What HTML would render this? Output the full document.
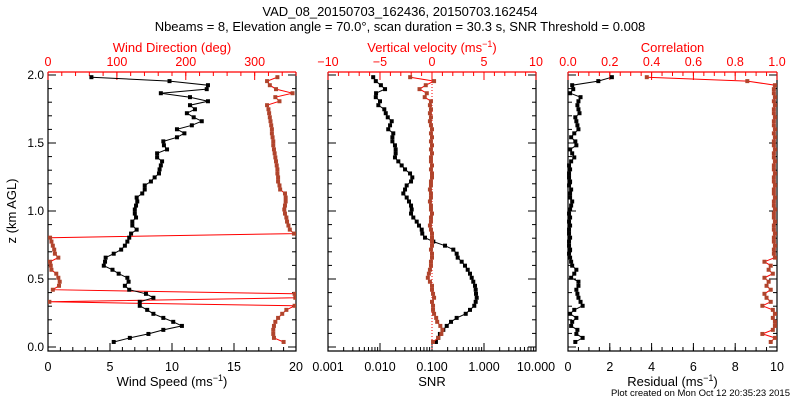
<!DOCTYPE html>
<html><head><meta charset="utf-8"><style>
body{margin:0;background:#fff}
svg{display:block}
text{font-family:"Liberation Sans",sans-serif}
</style></head><body>
<svg id="c" width="800" height="400" viewBox="0 0 800 400" xmlns="http://www.w3.org/2000/svg">
<rect width="800" height="400" fill="#fff"/>
<text x="400" y="16" text-anchor="middle" font-size="13">VAD_08_20150703_162436, 20150703.162454</text>
<text x="400" y="31" text-anchor="middle" font-size="13">Nbeams = 8, Elevation angle = 70.0°, scan duration = 30.3 s, SNR Threshold = 0.008</text>
<text transform="translate(16,211) rotate(-90)" text-anchor="middle" font-size="13">z (km AGL)</text>
<text x="790" y="396" text-anchor="end" font-size="9.5">Plot created on Mon Oct 12 20:35:23 2015</text>
<g id="plots"></g>
</svg>
<script>
// heights (km AGL), bottom to top
const heights = [0.037,0.067,0.096,0.126,0.155,0.185,0.214,0.244,0.273,0.303,0.332,0.362,0.391,0.421,0.45,0.48,0.509,0.539,0.568,0.598,0.627,0.657,0.686,0.716,0.745,0.775,0.804,0.834,0.863,0.893,0.922,0.952,0.981,1.011,1.04,1.07,1.099,1.129,1.158,1.188,1.217,1.247,1.276,1.306,1.335,1.365,1.394,1.424,1.453,1.483,1.512,1.542,1.571,1.601,1.63,1.66,1.689,1.719,1.748,1.778,1.807,1.837,1.866,1.896,1.925,1.955,1.984];
const windSpeed = [5.3,6.6,8.1,9.3,10.8,10.1,9.3,8.5,8.0,7.4,7.4,8.5,7.9,6.55,6.2,6.5,6.4,5.7,5.2,4.5,4.6,4.65,5.3,5.9,6.2,6.4,6.55,6.7,7.15,6.8,6.8,7.1,7.0,7.0,7.1,7.2,7.15,7.6,7.8,7.8,8.3,8.6,8.95,9.0,9.1,9.2,8.8,8.8,9.6,9.35,9.3,10.4,11.0,10.4,11.6,12.4,11.75,11.2,11.85,11.45,12.9,11.45,9.1,12.8,12.9,9.8,3.5];
const windDir = [342,328,327,327,328,330,334,340,346,358,2,359,358,7,16,17,15,12,5,4,3,15,10,9,7,5,3,357,351,349,347,346,344,343,344,345,345,344,337,336,334,334,333,333,332,331,330,329,328,327,327,326,325,325,324,323,322,321,320,318,336,330,355,331,322,318,333];
const snrTopDown = [0.0074,0.0083,0.0104,0.0125,0.0084,0.0083,0.010,0.0093,0.0121,0.0129,0.0141,0.0168,0.0156,0.0144,0.018,0.0173,0.0173,0.0194,0.020,0.020,0.0194,0.0225,0.0261,0.0303,0.0378,0.0418,0.0395,0.0326,0.0303,0.0281,0.0326,0.0361,0.0395,0.0407,0.0395,0.0437,0.0508,0.0562,0.0634,0.065,0.0733,0.106,0.178,0.257,0.298,0.312,0.372,0.431,0.486,0.538,0.58,0.622,0.671,0.692,0.702,0.724,0.692,0.65,0.538,0.445,0.298,0.232,0.192,0.165,0.142,0.132,0.119];
const vvelTopDown = [-2.1,0.2,-0.6,-1.2,-0.5,-0.7,-0.1,-0.2,-0.1,-0.2,-0.1,-0.2,-0.1,0.0,-0.1,0.0,-0.1,0.0,-0.1,0.0,-0.1,-0.1,0.0,-0.1,0.0,0.0,-0.1,-0.1,-0.2,-0.1,-0.1,-0.2,-0.1,-0.1,0.0,-0.1,-0.1,-0.2,-0.1,0.0,0.0,0.0,0.0,-0.1,0.0,0.0,-0.1,-0.1,-0.2,-0.3,-0.4,-0.2,0.0,0.0,0.1,0.2,0.0,0.1,0.1,0.2,0.4,0.5,0.8,1.0,0.9,0.6,0.1];
const residTopDown = [2.1,1.45,0.2,0.25,0.1,0.6,0.5,0.45,0.5,0.55,0.35,0.4,0.45,0.5,0.3,0.15,0.35,0.4,0.1,0.2,0.3,0.15,0.05,0.1,0.05,0.05,0.1,0.05,0.15,0.1,0.1,0.2,0.15,0.1,0.05,0.1,0.05,0.1,0.05,0.05,0.1,0.05,0.05,0.1,0.05,0.1,0.15,0.2,0.4,0.3,0.15,0.5,0.5,0.4,0.45,0.5,0.6,0.7,0.3,0.1,0.4,0.2,0.15,0.45,0.4,0.7,0.35];
const corrTopDown = [0.377,0.858,0.99,0.985,0.985,0.99,0.985,0.99,0.985,0.985,0.99,0.985,0.985,0.99,0.985,0.99,0.985,0.985,0.99,0.985,0.985,0.99,0.985,0.985,0.99,0.985,0.985,0.99,0.985,0.985,0.99,0.985,0.985,0.99,0.985,0.985,0.99,0.985,0.985,0.99,0.985,0.985,0.99,0.985,0.985,0.99,0.94,0.97,0.96,0.98,0.94,0.96,0.95,0.97,0.94,0.95,0.97,0.93,0.98,0.99,0.98,0.99,0.99,0.98,0.93,0.99,0.97];
const snr = snrTopDown.slice().reverse();
const vvel = vvelTopDown.slice().reverse();
const resid = residTopDown.slice().reverse();
const corr = corrTopDown.slice().reverse();
const speedTicks = ['0','5','10','15','20'];
const dirTicks = ['0','100','200','300'];
const snrTicks = ['0.001','0.010','0.100','1.000','10.000'];
const vvTicks = ['\u221210','\u22125','0','5','10'];
const residTicks = ['0','2','4','6','8','10'];
const corrTicks = ['0.0','0.2','0.4','0.6','0.8','1.0'];
const zTicks = ['0.0','0.5','1.0','1.5','2.0'];

const NS='http://www.w3.org/2000/svg';
const root=document.getElementById('plots');
const BROWN='#b0442c', RED='#ff0000';
const Y0=347, Y1=75, TOP=72, BOT=351;
function yz(z){return Y0+(Y1-Y0)*z/2;}
function el(tag,attrs,parent){const e=document.createElementNS(NS,tag);for(const k in attrs)e.setAttribute(k,attrs[k]);(parent||root).appendChild(e);return e;}
function lin(a,b,L,R){return v=>L+(v-a)/(b-a)*(R-L);}
function logs(a,b,L,R){return v=>L+(Math.log10(v)-Math.log10(a))/(Math.log10(b)-Math.log10(a))*(R-L);}

function panel(name,L,R,showY){
  const g=el('g',{});
  
  
  const fr=el('path',{d:`M${L},${TOP}V${BOT}H${R}V${TOP}`,fill:'none',stroke:'#000','stroke-width':1.2},g);
  
  
  const tp=el('line',{x1:L,y1:TOP,x2:R,y2:TOP,stroke:RED,'stroke-width':1.2},g);
  
  
  for(let i=0;i<=20;i++){
    const z=i*0.1,y=yz(z),len=(i%5===0)?8:4;
    el('line',{x1:L,y1:y,x2:L+len,y2:y,stroke:'#000'},g);
    el('line',{x1:R,y1:y,x2:R-len,y2:y,stroke:'#000'},g);
  }
  if(showY){
    zTicks.forEach(t=>{const tx=el('text',{x:L-4,y:yz(+t)+4,'text-anchor':'end','font-size':12},g);tx.textContent=t;
      
      });
  }
  return g;
}
function bottomAxis(g,sx,vals,labels,minor,L,R,title,isLog){
  vals.forEach((v,i)=>{
    const x=sx(v);
    el('line',{x1:x,y1:BOT,x2:x,y2:BOT-8,stroke:'#000'},g);
    const t=el('text',{x:x,y:371,'text-anchor':'middle','font-size':12.5},g);t.textContent=labels[i];
    
    
  });
  minor.forEach(v=>{const x=sx(v);el('line',{x1:x,y1:BOT,x2:x,y2:BOT-4,stroke:'#000'},g);});
  const t=el('text',{x:(L+R)/2,y:386,'text-anchor':'middle','font-size':13},g);
  t.innerHTML=title;
  
  
}
function topAxis(g,sx,vals,labels,minor,L,R,title){
  vals.forEach((v,i)=>{
    const x=sx(v);
    el('line',{x1:x,y1:TOP,x2:x,y2:TOP+8,stroke:RED},g);
    const t=el('text',{x:x,y:66,'text-anchor':'middle','font-size':12.5,fill:RED},g);t.textContent=labels[i];
    
    
  });
  minor.forEach(v=>{const x=sx(v);el('line',{x1:x,y1:TOP,x2:x,y2:TOP+4,stroke:RED},g);});
  const t=el('text',{x:(L+R)/2,y:52,'text-anchor':'middle','font-size':13,fill:RED},g);
  t.innerHTML=title;
  
  
}
function series(g,name,xs,sx,lineColor,markColor){
  const pts=xs.map((v,i)=>[sx(v),yz(heights[i])]);
  const pl=el('polyline',{points:pts.map(p=>p[0].toFixed(1)+','+p[1].toFixed(1)).join(' '),fill:'none',stroke:lineColor,'stroke-width':1},g);
  
  
  pts.forEach(p=>{
    const r=el('rect',{x:p[0]-2,y:p[1]-2,width:4,height:4,fill:markColor},g);
    
    
  });
}
function range(a,b,s){const r=[];for(let v=a;v<=b+1e-9;v+=s)r.push(+v.toFixed(6));return r;}

// Panel 1
{
  const L=48,R=296,g=panel('wind-panel',L,R,true);
  const sx=lin(0,20,L,R), dx=lin(0,360,L,R);
  bottomAxis(g,sx,speedTicks.map(Number),speedTicks,range(0,20,1),L,R,'Wind Speed (ms<tspan dy="-5" font-size="9">\u22121</tspan><tspan dy="5">)</tspan>');
  topAxis(g,dx,dirTicks.map(Number),dirTicks,range(0,360,20),L,R,'Wind Direction (deg)');
  const cp=el('clipPath',{id:'cp1'},g);el('rect',{x:L,y:TOP,width:R-L,height:BOT-TOP},cp);
  const s1=el('g',{'clip-path':'url(#cp1)'},g);
  series(s1,'wind-direction',windDir,dx,RED,BROWN);
  series(s1,'wind-speed',windSpeed,sx,'#000','#000');
}
// Panel 2
{
  const L=328,R=536,g=panel('snr-panel',L,R,false);
  const sx=logs(0.001,10,L,R), vx=lin(-10,10,L,R);
  const minor=[];for(let d=-3;d<1;d++)for(let k=2;k<=9;k++)minor.push(k*Math.pow(10,d));
  bottomAxis(g,sx,snrTicks.map(Number),snrTicks,minor,L,R,'SNR');
  topAxis(g,vx,vvTicks.map((t,i)=>[-10,-5,0,5,10][i]),vvTicks,range(-10,10,1),L,R,'Vertical velocity (ms<tspan dy="-5" font-size="9">\u22121</tspan><tspan dy="5">)</tspan>');
  const zl=el('line',{x1:vx(0),y1:TOP,x2:vx(0),y2:BOT,stroke:RED,'stroke-dasharray':'1,2'},g);
  
  
  series(g,'snr',snr,sx,'#000','#000');
  series(g,'vertical-velocity',vvel,vx,RED,BROWN);
}
// Panel 3
{
  const L=568,R=777,g=panel('residual-panel',L,R,false);
  const sx=lin(0,10,L,R), cx=lin(0,1,L,R);
  bottomAxis(g,sx,residTicks.map(Number),residTicks,range(0,10,0.5),L,R,'Residual (ms<tspan dy="-5" font-size="9">\u22121</tspan><tspan dy="5">)</tspan>');
  topAxis(g,cx,corrTicks.map(Number),corrTicks,range(0,1,0.05),L,R,'Correlation');
  series(g,'correlation',corr,cx,RED,BROWN);
  series(g,'residual',resid,sx,'#000','#000');
}
</script>
</body></html>
